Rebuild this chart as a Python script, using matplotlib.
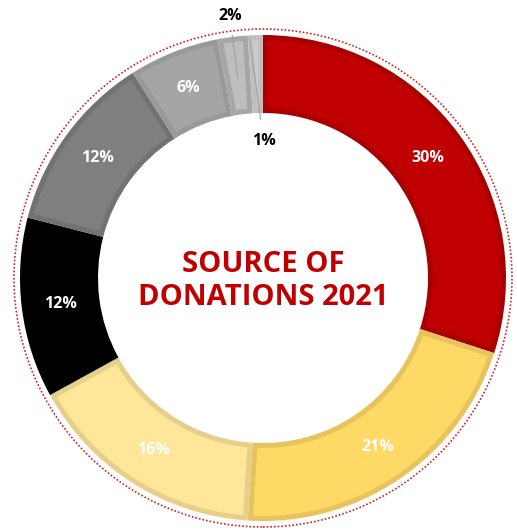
import numpy as np
import matplotlib.pyplot as plt
from matplotlib.patches import Circle, Polygon

# slices, clockwise from 12 o'clock
labels = ["30%", "21%", "16%", "12%", "12%", "6%", "2%", "1%"]
values = [30, 21, 16, 12, 12, 6, 2, 1]
colors = ["#C00000", "#FFD966", "#FFE699", "#000000",
          "#7F7F7F", "#A5A5A5", "#BEBEBE", "#CACACA"]
edges = ["#A80000", "#E6C35C", "#E6CF8A", "#000000",
         "#727272", "#999999", "#A6A6A6", "#BFBFBF"]
text_colors = ["white", "white", "white", "white", "white", "white", "black", "black"]
title = "SOURCE OF\nDONATIONS 2021"

W, H = 517, 530
cx, cy = 263, H - 278
r_out, r_in = 243, 165
bevel = 5

fig = plt.figure(figsize=(W / 100, H / 100), dpi=100)
ax = fig.add_axes([0, 0, 1, 1])

# full slices in the darker border colour
wedges, _ = ax.pie(values, startangle=90, counterclock=False,
                   center=(cx, cy), radius=r_out, colors=edges,
                   wedgeprops=dict(width=r_out - r_in, linewidth=0))


def inset_slice(t1, t2, d):
    """slice shape shrunk by d pixels on every side"""
    ro, ri = r_out - d, r_in + d
    ao = np.rad2deg(np.arcsin(d / ro))
    ai = np.rad2deg(np.arcsin(d / ri))
    to = np.deg2rad(np.linspace(t1 + ao, t2 - ao, 60))
    ti = np.deg2rad(np.linspace(t2 - ai, t1 + ai, 60))
    xs = np.concatenate([cx + ro * np.cos(to), cx + ri * np.cos(ti)])
    ys = np.concatenate([cy + ro * np.sin(to), cy + ri * np.sin(ti)])
    return np.column_stack([xs, ys])


# lighter fill inside the border
for w, c in zip(wedges, colors):
    ax.add_patch(Polygon(inset_slice(w.theta1, w.theta2, bevel),
                         closed=True, fc=c, ec="none"))

# dotted red ring around the donut
ax.add_patch(Circle((cx, cy), 249, fill=False, ec="#D42020",
                    lw=1.2, ls=(0, (1, 1.2))))

r_mid = (r_out + r_in) / 2
for w, lab, tc in zip(wedges, labels, text_colors):
    ang = np.deg2rad((w.theta1 + w.theta2) / 2)
    if tc == "white":
        ax.text(cx + r_mid * np.cos(ang), cy + r_mid * np.sin(ang), lab,
                ha="center", va="center", color=tc, fontsize=11.5,
                fontweight="bold", family="Open Sans")

# small slices labelled outside / inside with leader lines
a2 = np.deg2rad((wedges[6].theta1 + wedges[6].theta2) / 2)
ax.annotate(labels[6], xy=(cx + 202 * np.cos(a2), cy + 202 * np.sin(a2)),
            xytext=(cx + 265 * np.cos(a2), cy + 264 * np.sin(a2)),
            ha="center", va="center", fontsize=11.5, fontweight="bold",
            family="Open Sans", color="black",
            arrowprops=dict(arrowstyle="-", color="#A0A0A0", lw=0.8,
                            shrinkA=6, shrinkB=0))
a1 = np.deg2rad((wedges[7].theta1 + wedges[7].theta2) / 2)
ax.annotate(labels[7], xy=(cx - 6 + 240 * np.cos(a1), cy + 240 * np.sin(a1)),
            xytext=(cx + 5 + 138 * np.cos(a1), cy + 137 * np.sin(a1)),
            ha="center", va="center", fontsize=11.5, fontweight="bold",
            family="Open Sans", color="black",
            arrowprops=dict(arrowstyle="-", color="#A0A0A0", lw=0.8,
                            shrinkA=8, shrinkB=0))

ax.text(cx, cy - 3, title, ha="center", va="center", color="#C00000",
        fontsize=21, fontweight="bold", family="Open Sans",
        linespacing=1.15)

ax.set_xlim(0, W)
ax.set_ylim(0, H)
ax.set_aspect("equal")
ax.axis("off")

fig.savefig("out.png", dpi=100, facecolor="white")
